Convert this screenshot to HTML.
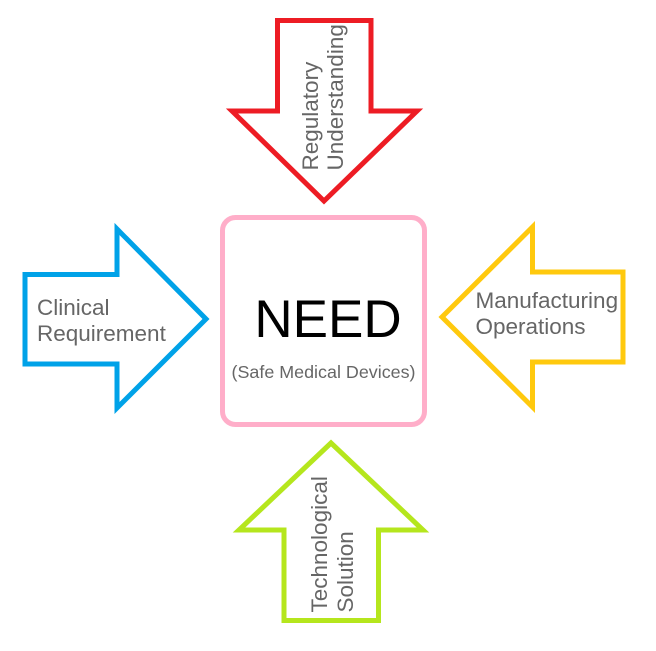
<!DOCTYPE html>
<html>
<head>
<meta charset="utf-8">
<style>
  html, body { margin: 0; padding: 0; background: #ffffff; }
  svg { display: block; }
  text { font-family: "Liberation Sans", Arial, sans-serif; }
</style>
</head>
<body>
<svg width="656" height="651" viewBox="0 0 656 651" xmlns="http://www.w3.org/2000/svg">
  <rect x="0" y="0" width="656" height="651" fill="#ffffff"/>

  <!-- Red down arrow -->
  <polygon points="277.5,20.5 371,20.5 371,111 417,111 324,201 232,111 277.5,111"
           fill="#ffffff" stroke="#ED1C24" stroke-width="5" stroke-linejoin="miter" stroke-miterlimit="10"/>

  <!-- Blue right arrow -->
  <polygon points="25,274.5 117,274.5 117,229 206,319 117,408 117,364 25,364"
           fill="#ffffff" stroke="#00A2E8" stroke-width="5" stroke-linejoin="miter" stroke-miterlimit="10"/>

  <!-- Orange left arrow -->
  <polygon points="442,317 532.5,227 532.5,272 623,272 623,362 532.5,362 532.5,407"
           fill="#ffffff" stroke="#FFC90E" stroke-width="5" stroke-linejoin="miter" stroke-miterlimit="10"/>

  <!-- Green up arrow -->
  <polygon points="331,443 423,530 378.5,530 378.5,620.5 284,620.5 284,530 239,530"
           fill="#ffffff" stroke="#B5E61D" stroke-width="5" stroke-linejoin="miter" stroke-miterlimit="10"/>

  <!-- Pink center box -->
  <rect x="222.5" y="217.5" width="202" height="207" rx="13" ry="13"
        fill="#ffffff" stroke="#FFAEC9" stroke-width="5"/>

  <!-- Center text -->
  <text x="328" y="337" font-size="53" fill="#000000" text-anchor="middle">NEED</text>
  <text x="323.5" y="378" font-size="17.5" fill="#666666" text-anchor="middle"
        textLength="184" lengthAdjust="spacingAndGlyphs">(Safe Medical Devices)</text>

  <!-- Left label -->
  <text x="37" y="315" font-size="22.5" fill="#666666">Clinical</text>
  <text x="37" y="341" font-size="22.5" fill="#666666">Requirement</text>

  <!-- Right label -->
  <text x="475.5" y="308" font-size="22.5" fill="#666666">Manufacturing</text>
  <text x="475.5" y="334" font-size="22.5" fill="#666666">Operations</text>

  <!-- Top label (rotated) -->
  <text transform="translate(318,170.5) rotate(-90)" font-size="22.5" fill="#666666">Regulatory</text>
  <text transform="translate(343,170.5) rotate(-90)" font-size="22.5" fill="#666666">Understanding</text>

  <!-- Bottom label (rotated) -->
  <text transform="translate(327,612.5) rotate(-90)" font-size="22.5" fill="#666666">Technological</text>
  <text transform="translate(353,612.5) rotate(-90)" font-size="22.5" fill="#666666">Solution</text>
</svg>
</body>
</html>
